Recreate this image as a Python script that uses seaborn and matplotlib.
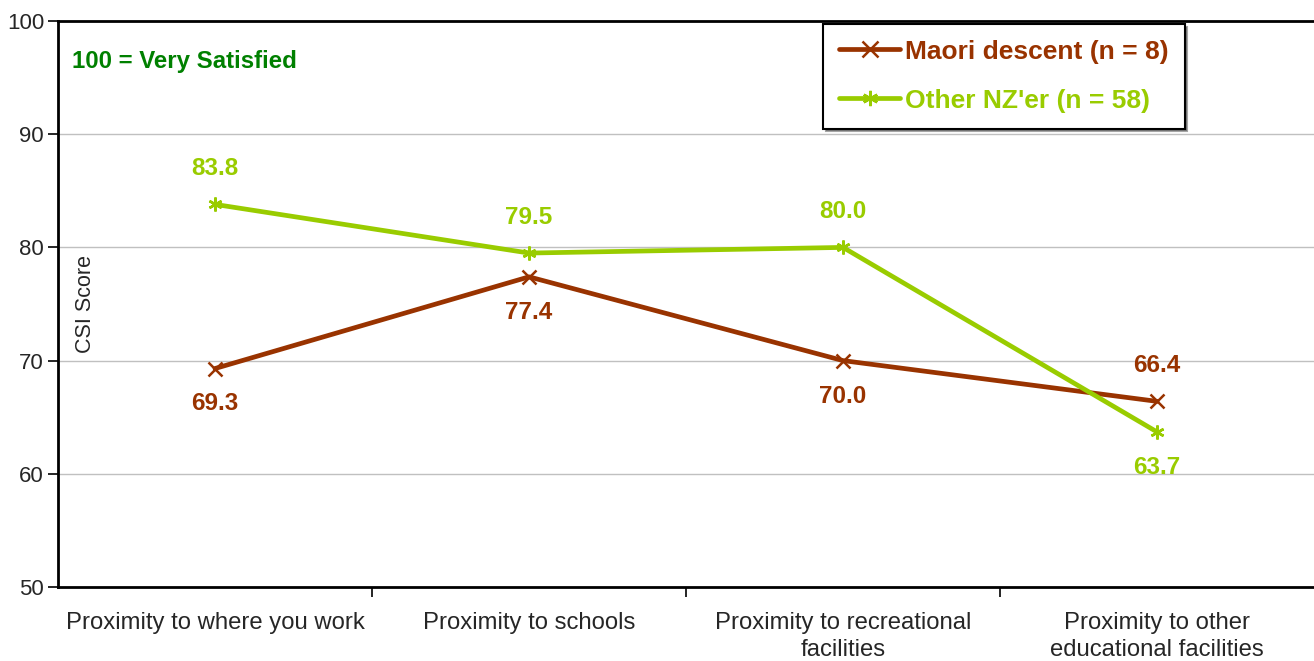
import matplotlib
matplotlib.use("Agg")
import matplotlib.pyplot as plt
import seaborn as sns
from matplotlib.ticker import FixedLocator

categories = [
    "Proximity to where you work",
    "Proximity to schools",
    "Proximity to recreational\nfacilities",
    "Proximity to other\neducational facilities",
]
maori = [69.3, 77.4, 70.0, 66.4]
other = [83.8, 79.5, 80.0, 63.7]
series_names = ["Maori descent (n = 8)", "Other NZ'er (n = 58)"]
y_ticks = [50, 60, 70, 80, 90, 100]

brown = "#993300"
green = "#99CC00"

sns.set_theme(style="white")
plt.rcParams["font.family"] = ["Liberation Sans", "DejaVu Sans"]

fig = plt.figure(figsize=(13.14, 6.61), dpi=100)
ax = fig.add_axes([58 / 1314, 1 - 587 / 661, 1 - 58 / 1314, (587 - 21) / 661])

xs = list(range(len(categories)))
series = [(maori, brown, "x", series_names[0]), (other, green, (6, 2, 0), series_names[1])]
for vals, col, mk, name in series:
    sns.lineplot(x=xs, y=vals, color=col, marker=mk, linewidth=3.4,
                 markersize=10, label=name, ax=ax)
for line in ax.lines:
    line.set_markeredgecolor(line.get_color())
    line.set_markerfacecolor(line.get_color())
    line.set_markeredgewidth(1.8)

ax.set_xlim(-0.5, len(categories) - 0.5)
ax.set_ylim(50, 100)
ax.set_yticks(y_ticks)
ax.tick_params(axis="y", which="major", direction="out", length=7, width=1.2,
               color="black", labelsize=16, pad=3, left=True)
ax.set_xticks(xs)
ax.set_xticklabels(categories, fontsize=17.2, linespacing=1.3)
ax.xaxis.set_minor_locator(FixedLocator([i + 0.5 for i in range(len(categories) - 1)]))
ax.tick_params(axis="x", which="major", length=0, pad=18)
ax.tick_params(axis="x", which="minor", direction="out", length=7, width=1.2,
               color="black", bottom=True)

for yv in y_ticks[1:-1]:
    ax.axhline(yv, color="#c0c0c0", linewidth=1, zorder=0)

for side in ["left", "bottom", "top"]:
    ax.spines[side].set_visible(True)
    ax.spines[side].set_color("black")
    ax.spines[side].set_linewidth(2)
ax.spines["right"].set_visible(False)

ax.set_xlabel("")
ax.set_ylabel("")
ax.text(0.022, 0.5, "CSI Score", transform=ax.transAxes, rotation=90,
        ha="center", va="center", fontsize=15.5)
ax.text(0.011, 0.9276, "100 = Very Satisfied", transform=ax.transAxes,
        ha="left", va="center", fontsize=17.3, fontweight="bold", color="#008000")

# value labels: above or below each point
maori_off = [-1, -1, -1, 1]
other_off = [1, 1, 1, -1]
for i, (m, o) in enumerate(zip(maori, other)):
    ax.annotate(f"{m:.1f}", (i, m), xytext=(0, 25.5 * maori_off[i]),
                textcoords="offset points", ha="center", va="center",
                fontsize=17.5, fontweight="bold", color=brown)
    ax.annotate(f"{o:.1f}", (i, o), xytext=(0, 25.5 * other_off[i]),
                textcoords="offset points", ha="center", va="center",
                fontsize=17.5, fontweight="bold", color=green)

handles, labels = ax.get_legend_handles_labels()
leg = ax.legend(handles, labels, loc="upper right", bbox_to_anchor=(0.897, 0.995),
                borderaxespad=0, frameon=True, fancybox=False, shadow=True,
                edgecolor="black", handlelength=2.3, handletextpad=0.2,
                borderpad=0.6, labelspacing=0.95,
                prop={"weight": "bold", "size": 19})
leg.get_frame().set_linewidth(1.5)
for txt, c in zip(leg.get_texts(), [brown, green]):
    txt.set_color(c)
for h in leg.legend_handles:
    h.set_markeredgecolor(h.get_color())
    h.set_markeredgewidth(1.8)
    h.set_markersize(11)

fig.savefig("out.png", dpi=100)
